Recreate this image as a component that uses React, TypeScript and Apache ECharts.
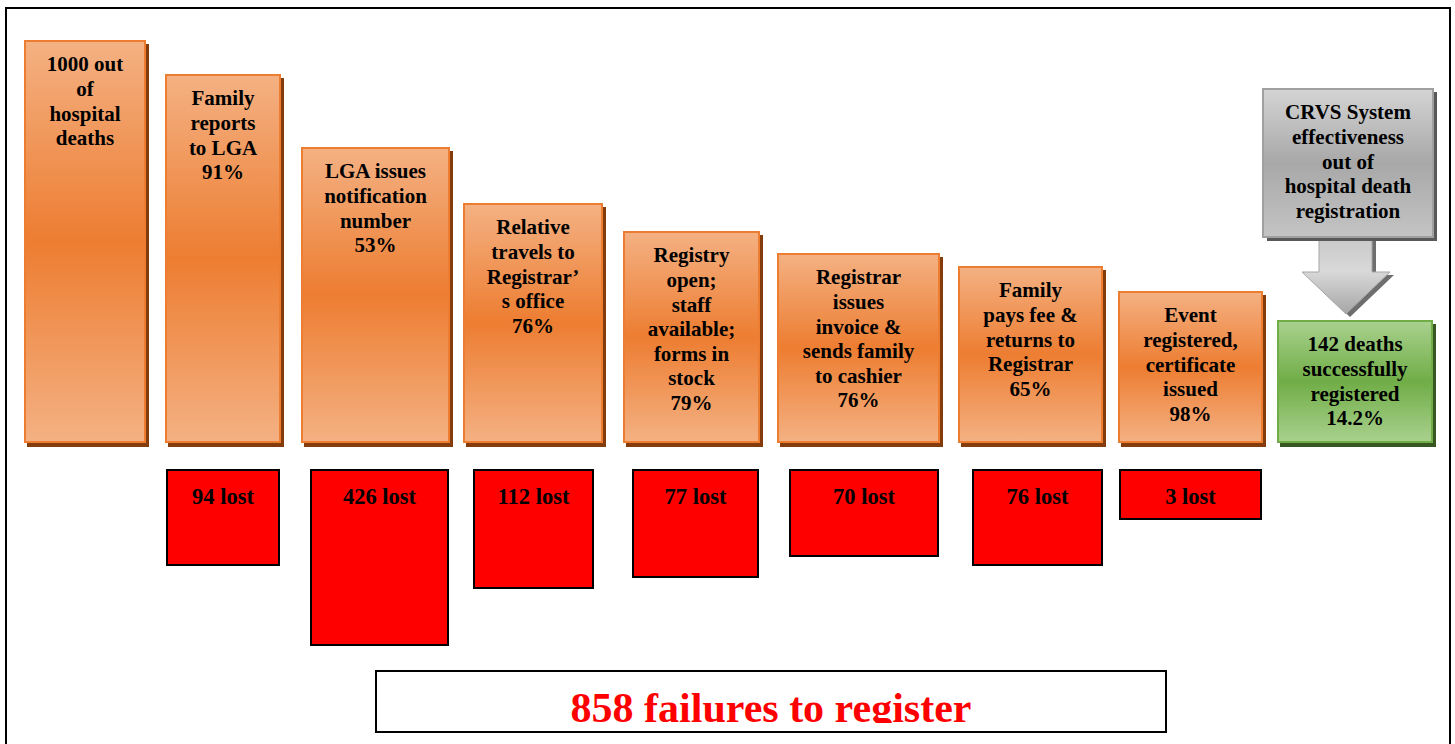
import React, { useEffect, useRef } from "react";
import * as echarts from "echarts";

// ---- Data (diagram units: x along the strip, y = height above the baseline) ----
const stageLabels = [
  "1000 out\nof\nhospital\ndeaths",
  "Family\nreports\nto LGA\n91%",
  "LGA issues\nnotification\nnumber\n53%",
  "Relative\ntravels to\nRegistrar’\ns office\n76%",
  "Registry\nopen;\nstaff\navailable;\nforms in\nstock\n79%",
  "Registrar\nissues\ninvoice &\nsends family\nto cashier\n76%",
  "Family\npays fee &\nreturns to\nRegistrar\n65%",
  "Event\nregistered,\ncertificate\nissued\n98%",
];
const stageStart = [24, 165, 301, 463, 623, 777, 958, 1118];
const stageEnd = [146, 281, 450, 603, 760, 940, 1103, 1263];
const stageHeights = [403, 369, 296, 240, 212, 190, 177, 152];

const lostCounts = [94, 426, 112, 77, 70, 76, 3];
const lostStart = [166, 310, 473, 632, 789, 972, 1119];
const lostEnd = [280, 449, 594, 759, 939, 1103, 1262];
const lostDepths = [97, 177, 120, 109, 88, 97, 51];
const lostTop = -26;

const resultLabel = "142 deaths\nsuccessfully\nregistered\n14.2%";
const resultStart = [1277];
const resultEnd = [1433];
const resultHeights = [123];

const calloutLabel = "CRVS System\neffectiveness\nout of\nhospital death\nregistration";
const totalLabel = "858 failures to register";

const FONT = "'Liberation Serif', 'Times New Roman', serif";

export default function App() {
  const ref = useRef<HTMLDivElement>(null);

  useEffect(() => {
    if (!ref.current) return;
    const chart = echarts.init(ref.current, null, { renderer: "svg" });

    const boxRender = (
      labels: string[],
      fill: any,
      stroke: string,
      shadow: string | null,
      textOffset: number,
      fontSize: number,
      middle: boolean
    ) => (params: any, api: any) => {
      const i = params.dataIndex;
      const a = api.coord([api.value(0), api.value(2)]);
      const b = api.coord([api.value(1), api.value(3)]);
      const x = a[0];
      const y = a[1];
      const w = b[0] - a[0];
      const h = b[1] - a[1];
      const children: any[] = [];
      if (shadow) {
        children.push({
          type: "rect",
          shape: { x: x + 3, y: y + 4, width: w, height: h },
          style: { fill: shadow },
        });
      }
      children.push({
        type: "rect",
        shape: { x: x + 1, y: y + 1, width: w - 2, height: h - 2 },
        style: { fill, stroke, lineWidth: 2 },
      });
      children.push({
        type: "text",
        x: x + w / 2,
        y: y + textOffset,
        style: {
          text: labels[i],
          align: "center",
          verticalAlign: middle ? "middle" : "top",
          fontSize,
          fontWeight: "bold",
          fontFamily: FONT,
          lineHeight: 24.6,
          fill: "#000",
        },
      });
      return { type: "group", children };
    };

    const orange = new echarts.graphic.LinearGradient(0, 0, 0, 1, [
      { offset: 0, color: "#F4B183" },
      { offset: 0.5, color: "#ED7D31" },
      { offset: 1, color: "#F4B183" },
    ]);
    const green = new echarts.graphic.LinearGradient(0, 0, 0, 1, [
      { offset: 0, color: "#A9D18E" },
      { offset: 0.5, color: "#70AD47" },
      { offset: 1, color: "#A9D18E" },
    ]);
    const greyBox = new echarts.graphic.LinearGradient(0, 0, 0, 1, [
      { offset: 0, color: "#D4D4D4" },
      { offset: 0.5, color: "#A8A8A8" },
      { offset: 1, color: "#C4C4C4" },
    ]);
    const greyArrow = new echarts.graphic.LinearGradient(0, 0, 0, 1, [
      { offset: 0, color: "#C8C8C8" },
      { offset: 0.45, color: "#D9D9D9" },
      { offset: 1, color: "#A6A6A6" },
    ]);

    const stageData = stageHeights.map((hgt, i) => [stageStart[i], stageEnd[i], hgt, 0]);
    const lostData = lostDepths.map((d, i) => [lostStart[i], lostEnd[i], lostTop, lostTop - d]);
    const resultData = resultHeights.map((hgt, i) => [resultStart[i], resultEnd[i], hgt, 0]);
    const lostLabels = lostCounts.map((n) => `${n} lost`);

    const arrowPts = [
      [1319, 236], [1372, 236], [1372, 272], [1390, 272], [1346, 314], [1302, 272], [1319, 272],
    ];

    chart.setOption({
      animation: false,
      grid: { left: 0, right: 0, top: 0, bottom: 0 },
      xAxis: { type: "value", min: 0, max: 1455, show: false },
      yAxis: { type: "value", min: -301, max: 443, show: false },
      series: [
        {
          type: "custom",
          name: "stages",
          data: stageData,
          renderItem: boxRender(stageLabels, orange, "#ED7D31", "#843C0C", 12, 21, false),
        },
        {
          type: "custom",
          name: "lost",
          data: lostData,
          renderItem: boxRender(lostLabels, "#FF0000", "#000000", null, 27, 22.5, true),
        },
        {
          type: "custom",
          name: "registered",
          data: resultData,
          renderItem: boxRender([resultLabel], green, "#70AD47", "#385723", 12, 21, false),
        },
      ],
      graphic: [
        {
          type: "rect",
          shape: { x: 6, y: 8, width: 1444, height: 800 },
          style: { fill: "none", stroke: "#000", lineWidth: 2 },
        },
        {
          type: "polygon",
          shape: { points: arrowPts.map((p) => [p[0] + 4, p[1] + 3]) },
          style: { fill: "#6E6E6E" },
        },
        {
          type: "polygon",
          shape: { points: arrowPts },
          style: { fill: greyArrow, stroke: "#A6A6A6", lineWidth: 1 },
        },
        {
          type: "rect",
          shape: { x: 1267, y: 92, width: 170, height: 149 },
          style: { fill: "#595959" },
        },
        {
          type: "rect",
          shape: { x: 1263, y: 89, width: 170, height: 148 },
          style: { fill: greyBox, stroke: "#A0A0A0", lineWidth: 2 },
        },
        {
          type: "text",
          x: 1348,
          y: 100,
          style: {
            text: calloutLabel,
            align: "center",
            verticalAlign: "top",
            fontSize: 21,
            fontWeight: "bold",
            fontFamily: FONT,
            lineHeight: 24.6,
            fill: "#000",
          },
        },
        {
          type: "rect",
          shape: { x: 376, y: 671, width: 790, height: 61 },
          style: { fill: "#fff", stroke: "#000", lineWidth: 2 },
        },
        {
          type: "text",
          x: 771,
          y: 708,
          style: {
            text: totalLabel,
            align: "center",
            verticalAlign: "middle",
            fontSize: 42,
            fontWeight: "bold",
            fontFamily: FONT,
            fill: "#FF0000",
          },
        },
        {
          type: "rect",
          shape: { x: 378, y: 723, width: 786, height: 8 },
          style: { fill: "#fff" },
        },
      ],
    });

    return () => chart.dispose();
  }, []);

  return (
    <div
      ref={ref}
      style={{ position: "absolute", left: 0, top: 0, width: 1455, height: 744, background: "#fff" }}
    />
  );
}
